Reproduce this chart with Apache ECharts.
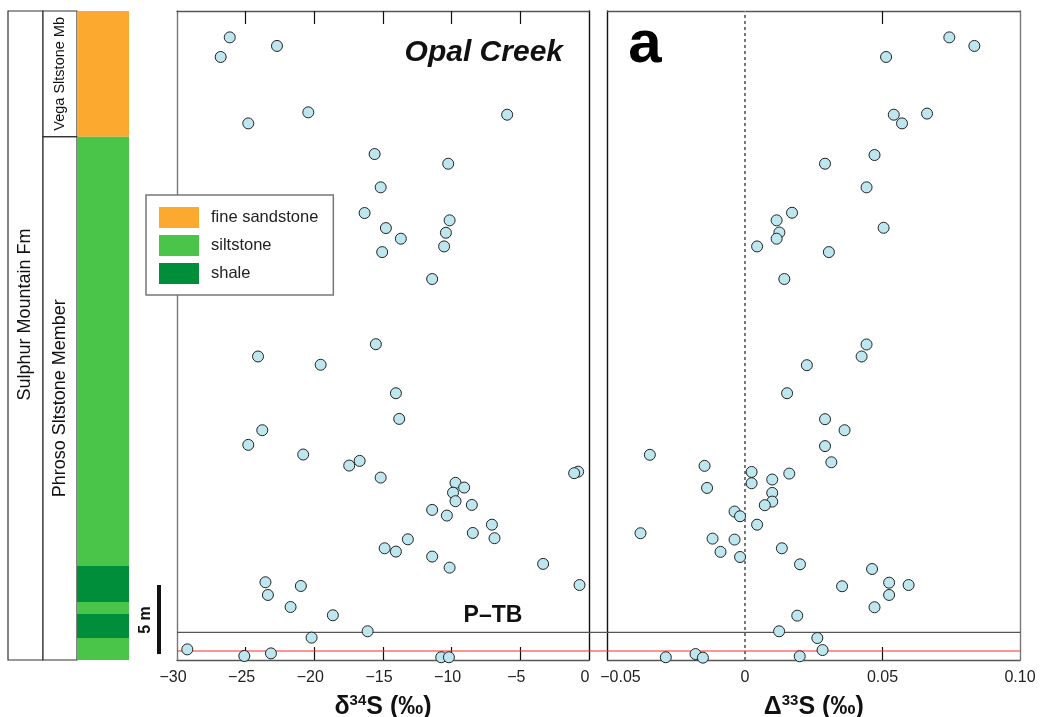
<!DOCTYPE html>
<html><head><meta charset="utf-8">
<script src="https://cdn.jsdelivr.net/npm/echarts@6/dist/echarts.min.js"></script>
<style>html,body{margin:0;padding:0;background:#fff}#c{width:1040px;height:717px}</style>
</head><body><div id="c"></div>
<script>
// ---- data (heights in metres above section base) ----
const heightD34 = [45.09,44.47,43.67,39.66,39.49,38.86,36.64,35.94,34.23,32.37,31.84,31.28,30.94,30.51,29.95,29.54,27.59,22.87,21.98,21.38,19.32,17.46,16.64,15.58,14.88,14.42,14.08,13.64,13.53,13.21,12.83,12.49,12.12,11.50,11.23,10.87,10.46,9.80,9.20,8.82,8.74,8.09,7.85,7.49,6.96,6.69,5.63,5.43,5.36,4.71,3.84,3.24,2.08,1.62,0.77,0.48,0.29,0.20,0.20];
const d34S = [-26.16,-22.72,-26.82,-20.44,-5.96,-24.81,-15.61,-10.25,-15.17,-16.34,-10.15,-14.79,-10.42,-13.70,-10.55,-15.06,-11.42,-15.52,-24.10,-19.54,-14.06,-13.82,-23.79,-24.81,-20.81,-16.70,-17.46,-0.79,-1.08,-15.17,-9.72,-9.09,-9.90,-9.72,-8.53,-11.42,-10.35,-7.07,-8.46,-6.88,-13.19,-14.88,-14.06,-11.42,-3.34,-10.15,-23.56,-0.69,-20.98,-23.38,-21.73,-18.65,-16.12,-20.20,-29.25,-23.16,-25.10,-10.76,-10.20];
const heightC33 = [45.09,44.47,43.67,39.57,39.49,38.86,36.57,35.94,34.23,32.39,31.84,31.30,30.96,30.51,29.95,29.54,27.59,22.85,21.98,21.35,19.32,17.44,16.64,15.49,14.86,14.32,14.06,13.62,13.50,13.07,12.80,12.46,12.10,11.47,11.21,10.75,10.41,9.80,9.18,8.79,8.72,8.09,7.83,7.46,6.93,6.59,5.60,5.43,5.34,4.71,3.82,3.21,2.08,1.59,0.72,0.43,0.27,0.20,0.17];
const cap33S = [0.0743,0.0834,0.0513,0.0662,0.0541,0.0571,0.0471,0.0291,0.0442,0.0171,0.0115,0.0504,0.0125,0.0115,0.0044,0.0305,0.0143,0.0442,0.0424,0.0225,0.0153,0.0291,0.0362,0.0291,-0.0346,0.0314,-0.0147,0.0024,0.0161,0.0099,0.0024,-0.0138,0.0099,0.0099,0.0072,-0.0038,-0.0018,0.0044,-0.0380,-0.0118,-0.0038,0.0134,-0.0089,-0.0018,0.0200,0.0462,0.0524,0.0595,0.0353,0.0524,0.0471,0.0190,0.0124,0.0263,0.0282,-0.0180,0.0199,-0.0288,-0.0153];

const d34TickValues = [-25,-20,-15,-10,-5];
const c33TickValues = [0.05];
const lithNames = ['fine sandstone','siltstone','shale'];
const sandstoneBeds = [[37.9,47]];
const siltstoneBeds = [[0,1.59],[3.33,4.2],[6.81,37.9]];
const shaleBeds = [[1.59,3.33],[4.2,6.81]];
const members = [['Phroso Sltstone Member',0,37.9],['Vega Sltstone Mb',37.9,47]];
const formations = [['Sulphur Mountain Fm',0,47]];
const ptbHeight = 2.0;
const redHeight = 0.65;
const scaleBarRange = [0.43, 5.43];
const yMax = 47;

// ---- styles ----
const FONT = 'Liberation Sans, Arial, Helvetica, sans-serif';
const colSand = '#FCA92F', colSilt = '#4BC44A', colShale = '#008E3A';
const TOP = 11, H = 649;

const chart = echarts.init(document.getElementById('c'));

function pts(xs, ys){ return xs.map((v,i)=>[v, ys[i]]); }
function bedRender(params, api){
  const y0 = api.value(0), y1 = api.value(1);
  const a = api.coord([0, y1]), b = api.coord([1, y0]);
  return {type:'rect', shape:{x:a[0], y:a[1], width:b[0]-a[0], height:b[1]-a[1]},
          style:{fill: api.visual('color')}};
}
function unitRender(items, fontSize, shift){
  return function(params, api){
    const it = items[params.dataIndex];
    const a = api.coord([0, it[2]]), b = api.coord([1, it[1]]);
    return {type:'group', children:[
      {type:'rect', shape:{x:a[0], y:a[1], width:b[0]-a[0], height:b[1]-a[1]},
       style:{fill:'#fff', stroke:'#333', lineWidth:1.2}},
      {type:'text', x:(a[0]+b[0])/2, y:(a[1]+b[1])/2 + shift, rotation:Math.PI/2,
       style:{text:it[0], fontSize:fontSize, fontFamily:FONT, fill:'#111', align:'center', verticalAlign:'middle'}}
    ]};
  };
}

const grids = [
  {left:8, top:TOP, width:35, height:H},
  {left:43, top:TOP, width:34, height:H},
  {left:77, top:TOP, width:52, height:H},
  {left:152, top:TOP, width:14, height:H},
  {left:177, top:TOP, width:412, height:H},
  {left:607.5, top:TOP, width:412.5, height:H},
  {left:177, top:TOP, width:843, height:H}
].map(g => Object.assign(g, {outerBoundsMode:'none', containLabel:false}));
const hiddenX = i => ({type:'value', gridIndex:i, min:0, max:1, show:false});
const hiddenY = i => ({type:'value', gridIndex:i, min:0, max:yMax, show:false});
const nameRich = {
  b:{fontSize:25, fontWeight:'bold', fontFamily:FONT, color:'#111', lineHeight:28},
  s:{fontSize:15, fontWeight:'bold', fontFamily:FONT, color:'#111', verticalAlign:'top', lineHeight:15}
};
const lblRich = {
  n:{fontSize:16, fontFamily:FONT, color:'#222', padding:[0,8,0,0]},
  r:{fontSize:16, fontFamily:FONT, color:'#222', padding:[0,0,0,26]},
  p:{fontSize:16, fontFamily:FONT, color:'#222'}
};
function dataAxis(gi, min, max, interval, ticks, pos, withLabel, name, fmt){
  return {type:'value', gridIndex:gi, min:min, max:max, interval:interval, position:pos,
    axisLine:{show:true, onZero:false, lineStyle:{color:'#555', width:1.4}},
    axisTick:{show:true, inside:true, length:13, customValues:ticks, lineStyle:{color:'#111', width:1.2}},
    splitLine:{show:false},
    axisLabel:{show:withLabel, margin:10, formatter:fmt, rich:lblRich},
    name: withLabel ? name : '', nameLocation:'middle', nameGap:33,
    nameTextStyle:{rich:nameRich}};
}
const fmtD34 = v => '{n|' + (v<0 ? '\u2212' : '') + Math.abs(v) + '}';
const fmtC33 = v => {
  if (Math.abs(v) < 1e-9) return '{p|0}';
  const s = (v<0 ? '\u2212' : '') + Math.abs(v).toFixed(2);
  return v < 0 ? '{r|' + s + '}' : '{p|' + s + '}';
};
function sideAxis(gi, pos, color){
  return {type:'value', gridIndex:gi, min:0, max:yMax, position:pos,
    axisLine:{show:true, onZero:false, lineStyle:{color:color, width:1.4}},
    axisTick:{show:false}, axisLabel:{show:false}, splitLine:{show:false}};
}
function hLine(name, h, color, width){
  return {type:'line', name:name, xAxisIndex:8, yAxisIndex:8, silent:true, z:1,
    symbol:'none', color:color, lineStyle:{color:color, width:width, type:'solid', opacity:1},
    data:[[0, h], [1, h]]};
}

const option = {
  animation:false,
  backgroundColor:'#fff',
  textStyle:{fontFamily:FONT},
  grid: grids,
  xAxis: [hiddenX(0), hiddenX(1), hiddenX(2), hiddenX(3),
    dataAxis(4,-30,0,5,d34TickValues,'bottom',true,'{b|\u03b4}{s|34}{b|S (\u2030)}',fmtD34),
    dataAxis(4,-30,0,5,d34TickValues,'top',false,'',fmtD34),
    dataAxis(5,-0.05,0.10,0.05,c33TickValues,'bottom',true,'{b|\u0394}{s|33}{b|S (\u2030)}',fmtC33),
    dataAxis(5,-0.05,0.10,0.05,c33TickValues,'top',false,'',fmtC33),
    hiddenX(6)],
  yAxis: [hiddenY(0), hiddenY(1), hiddenY(2), hiddenY(3),
    sideAxis(4,'left','#777'), sideAxis(4,'right','#111'),
    sideAxis(5,'left','#111'), sideAxis(5,'right','#777'),
    hiddenY(6)],
  legend:{
    data: lithNames, orient:'vertical', left:146, top:195,
    padding:[12,15,11,13], itemWidth:40, itemHeight:21, itemGap:7, icon:'rect',
    borderColor:'#777', borderWidth:1.5, backgroundColor:'#fff', borderRadius:0,
    textStyle:{fontSize:16.5, color:'#222', fontFamily:FONT, padding:[0,0,0,7]},
    selectedMode:false
  },
  series: [
    {type:'custom', name:'Sulphur Mountain Fm', xAxisIndex:0, yAxisIndex:0, silent:true,
     data: formations.map(f=>[f[1], f[2]]), renderItem: unitRender(formations, 18, -21)},
    {type:'custom', name:'members', xAxisIndex:1, yAxisIndex:1, silent:true,
     data: members.map(m=>[m[1], m[2]]), renderItem: function(p, api){
       const fs = members[p.dataIndex][0].length > 18 ? 18 : 14.5;
       return unitRender(members, fs, 0)(p, api);
     }},
    {type:'custom', name:lithNames[0], xAxisIndex:2, yAxisIndex:2, silent:true, itemStyle:{color:colSand},
     data: sandstoneBeds, renderItem: bedRender},
    {type:'custom', name:lithNames[1], xAxisIndex:2, yAxisIndex:2, silent:true, itemStyle:{color:colSilt},
     data: siltstoneBeds, renderItem: bedRender},
    {type:'custom', name:lithNames[2], xAxisIndex:2, yAxisIndex:2, silent:true, itemStyle:{color:colShale},
     data: shaleBeds, renderItem: bedRender},
    {type:'line', name:'scale', xAxisIndex:3, yAxisIndex:3, silent:true, symbol:'none',
     lineStyle:{color:'#111', width:4}, data: scaleBarRange.map(v=>[0.5, v])},
    hLine('P-TB', ptbHeight, '#555', 1.3),
    hLine('red', redHeight, '#ff2a2a', 1.2),
    {type:'scatter', name:'d34S', xAxisIndex:4, yAxisIndex:4, z:5, symbolSize:11,
     itemStyle:{color:'#bde6ef', borderColor:'#222', borderWidth:1, opacity:1},
     data: pts(d34S, heightD34)},
    {type:'scatter', name:'D33S', xAxisIndex:6, yAxisIndex:6, z:5, symbolSize:11,
     itemStyle:{color:'#bde6ef', borderColor:'#222', borderWidth:1, opacity:1},
     data: pts(cap33S, heightC33),
     markLine:{silent:true, symbol:'none', label:{show:false}, z:1,
       data:[{xAxis:0, lineStyle:{color:'#777', width:2, type:[3,3]}}]}}
  ],
  graphic: [
    {type:'text', x:563, y:52.9, z:10, style:{text:'Opal Creek', font:'italic bold 30px ' + FONT, fill:'#111', align:'right', verticalAlign:'middle'}},
    {type:'text', x:645, y:45, z:10, style:{text:'a', font:'bold 60px ' + FONT, fill:'#000', align:'center', verticalAlign:'middle'}},
    {type:'text', x:493, y:616, z:10, style:{text:'P\u2013TB', font:'bold 23px ' + FONT, fill:'#111', align:'center', verticalAlign:'middle'}},
    {type:'text', x:145.5, y:620, rotation:Math.PI/2, z:10, style:{text:'5 m', font:'bold 16px ' + FONT, fill:'#111', align:'center', verticalAlign:'middle'}}
  ]
};
chart.setOption(option);
</script>
</body></html>
